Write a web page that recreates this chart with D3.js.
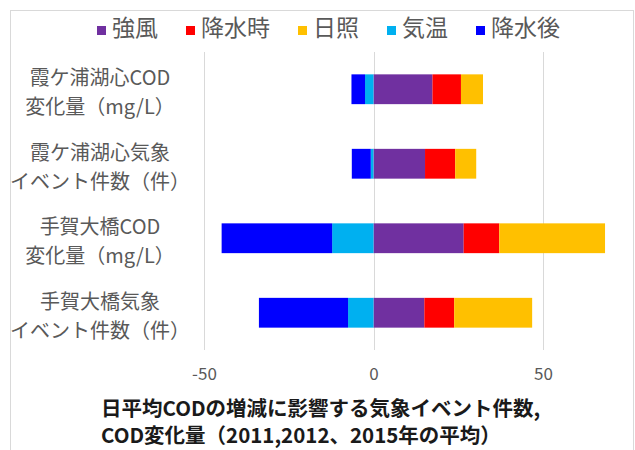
<!DOCTYPE html>
<html>
<head>
<meta charset="utf-8">
<script src="https://cdn.jsdelivr.net/npm/d3@7"></script>
<style>
  html, body { margin: 0; padding: 0; background: #fff; }
  svg { display: block; font-family: "Noto Sans CJK JP", "Noto Sans", sans-serif; }
</style>
</head>
<body>
<svg id="chart" width="635" height="450"></svg>
<script>
// Row labels (two lines each), top to bottom
const categories = [
  ["霞ケ浦湖心COD", "変化量（mg/L）"],
  ["霞ケ浦湖心気象", "イベント件数（件）"],
  ["手賀大橋COD", "変化量（mg/L）"],
  ["手賀大橋気象", "イベント件数（件）"]
];

// Series values per row; positive series stack right of zero, negative ones left
const seriesNames = ["強風", "降水時", "日照", "気温", "降水後"];
const kyofu   = [17.4, 15.2, 26.6, 15.0];
const kousuiji = [8.4, 8.9, 10.5, 8.8];
const nissho  = [6.5, 6.2, 31.2, 23.0];
const kion    = [-2.5, -0.8, -12.2, -7.5];
const kousuigo = [-4.0, -5.6, -32.6, -26.3];
const seriesValues = [kyofu, kousuiji, nissho, kion, kousuigo];
const seriesColors = ["#7030a0", "#ff0000", "#ffc000", "#00b0f0", "#0000ff"];

const xTicks = [-50, 0, 50];
const titleLines = ["日平均CODの増減に影響する気象イベント件数,", "COD変化量（2011,2012、2015年の平均）"];

const svg = d3.select("#chart");

// outer chart frame
svg.append("rect")
  .attr("x", 10.5).attr("y", 10.5)
  .attr("width", 623).attr("height", 450)
  .attr("fill", "none").attr("stroke", "#d9d9d9");

const x = d3.scaleLinear().domain([-50, 75]).range([204, 627.75]);
const y = d3.scaleBand().domain(d3.range(categories.length)).range([52, 350]).paddingInner(0.6).paddingOuter(0.3);

// vertical gridlines
svg.append("g").selectAll("line").data(xTicks).join("line")
  .attr("x1", d => Math.round(x(d)) + 0.5).attr("x2", d => Math.round(x(d)) + 0.5)
  .attr("y1", 52).attr("y2", 350)
  .attr("stroke", "#d9d9d9").attr("stroke-width", 1);

// stacked bars built with d3.stack using diverging offset
const rows = categories.map((c, i) => {
  const r = { i };
  seriesNames.forEach((n, k) => r[n] = seriesValues[k][i]);
  return r;
});
const stacked = d3.stack().keys(seriesNames).offset(d3.stackOffsetDiverging)(rows);

svg.append("g").selectAll("g").data(stacked).join("g")
  .attr("fill", (d, k) => seriesColors[k])
  .selectAll("rect").data(d => d).join("rect")
  .attr("x", d => x(Math.min(d[0], d[1])))
  .attr("width", d => Math.abs(x(d[1]) - x(d[0])))
  .attr("y", d => y(d.data.i))
  .attr("height", y.bandwidth());

// x axis tick labels (plain hyphen for negatives)
const xAxis = d3.axisBottom(x).tickValues(xTicks).tickSize(0).tickPadding(0).tickFormat(d => String(d));
const ax = svg.append("g").attr("transform", "translate(0,368)").call(xAxis);
ax.select(".domain").remove();
ax.selectAll("text").attr("font-size", 17).attr("fill", "#595959")
  .attr("font-family", "'Noto Sans CJK JP', sans-serif").attr("dy", "0.71em");

// category labels
const labelG = svg.append("g");
categories.forEach((lines, i) => {
  const cy = y(i) + y.bandwidth() / 2;
  labelG.append("text")
    .attr("x", 100).attr("y", cy)
    .attr("text-anchor", "middle")
    .attr("font-size", 20).attr("fill", "#595959")
    .selectAll("tspan").data(lines).join("tspan")
    .attr("x", 100)
    .attr("dy", (d, j) => j === 0 ? "-0.45em" : "1.45em")
    .text(d => d);
});
labelG.selectAll("text").attr("dominant-baseline", "middle");

// legend
const legend = svg.append("g").attr("transform", "translate(97,30)");
let lx = 0;
seriesNames.forEach((n, k) => {
  const g = legend.append("g").attr("transform", `translate(${lx},0)`);
  g.append("rect").attr("x", 0).attr("y", -4).attr("width", 9).attr("height", 9).attr("fill", seriesColors[k]);
  const t = g.append("text").attr("x", 15).attr("y", 0).attr("dominant-baseline", "middle")
    .attr("font-size", 23).attr("fill", "#595959").text(n);
  lx += 15 + t.node().getComputedTextLength() + 28;
});

// title
svg.append("g").selectAll("text").data(titleLines).join("text")
  .attr("x", 101).attr("y", (d, i) => 410 + i * 27)
  .attr("dominant-baseline", "middle")
  .attr("font-size", 20.5).attr("font-weight", "bold").attr("fill", "#1a1a1a")
  .text(d => d);
</script>
</body>
</html>
